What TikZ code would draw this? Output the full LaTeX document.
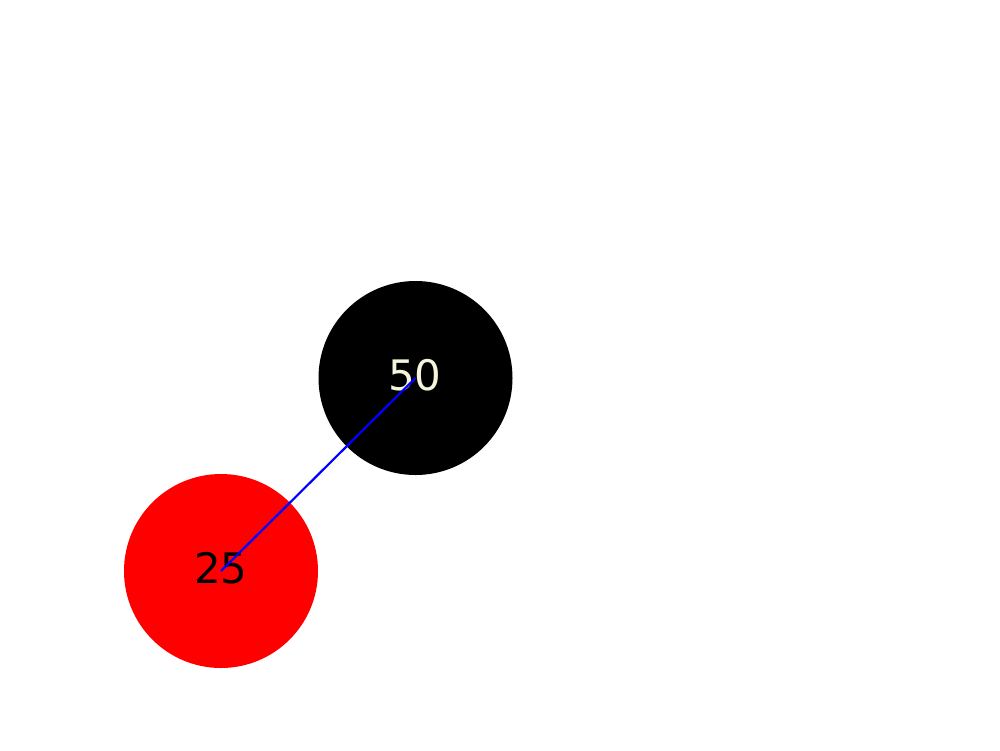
\documentclass[tikz,border=0pt]{standalone}
\usepackage{fontspec}
\setmainfont{DejaVu Sans}
\definecolor{ivorytext}{HTML}{F5F5DC}
\begin{document}
\begin{tikzpicture}[x=1pt,y=-1pt,
  treenode/.style={circle,minimum size=194pt,inner sep=0pt,draw=none},
  lbl/.style={font=\fontsize{42}{42}\selectfont},
  edge/.style={draw=blue,line width=2.2pt}]
\useasboundingbox (0,0) rectangle (1000,750);
\node[treenode,fill=black] (n50) at (415.5,378) {};
\node[treenode,fill=red] (n25) at (221,571) {};
\node[lbl,text=ivorytext] (t50) at (415,375.5) {50};
\node[lbl,text=black] (t25) at (221,568.5) {25};
\draw[edge] (n50.center) -- (n25.center);
\end{tikzpicture}
\end{document}
